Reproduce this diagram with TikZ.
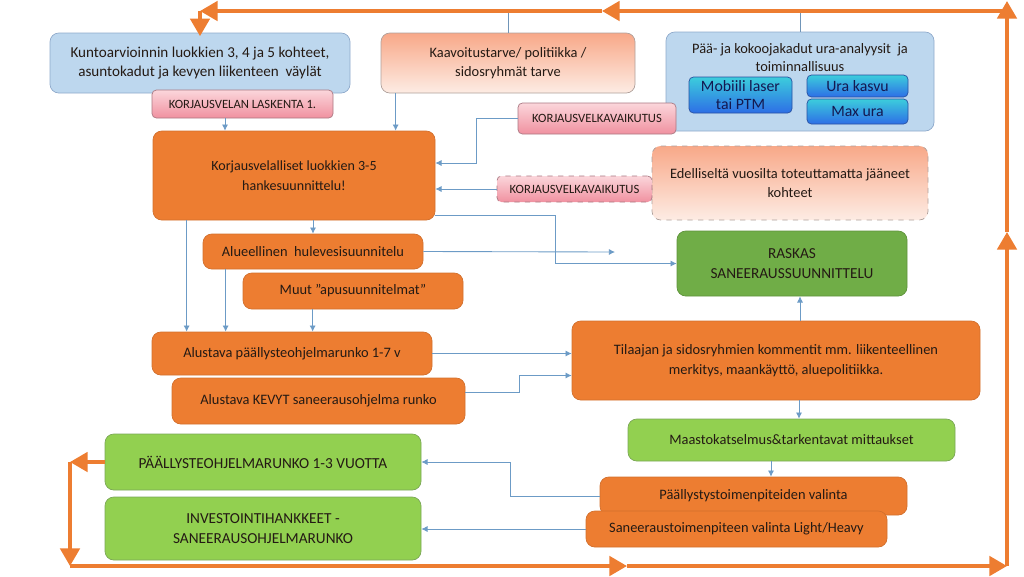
\documentclass[tikz,border=0pt]{standalone}
\usepackage{fontspec}
\setmainfont{Carlito}
\usetikzlibrary{arrows.meta,positioning,calc}
\definecolor{kblue}{HTML}{BDD7EE}
\definecolor{kblueline}{HTML}{8FAACB}
\definecolor{korange}{HTML}{ED7D31}
\definecolor{korangeline}{HTML}{D2702E}
\definecolor{kgreen}{HTML}{70AD47}
\definecolor{klgreen}{HTML}{92D050}
\definecolor{kgreenline}{HTML}{7BA757}
\definecolor{kconn}{HTML}{6C9BC6}
\definecolor{ktext}{HTML}{241A14}
\definecolor{knavy}{HTML}{141850}

\begin{document}
\begin{tikzpicture}[x=0.02cm,y=-0.02cm,
  fs/.style={font=\fontsize{#1}{11}\selectfont},
  kbox/.style={rounded corners=5pt,align=center,inner sep=1pt,text=ktext,fs=8.2},
  sz/.style 2 args={minimum width=#1*0.02cm,minimum height=#2*0.02cm},
  bluebox/.style={kbox,fill=kblue,draw=kblueline},
  orbox/.style={kbox,fill=korange,draw=korangeline},
  grbox/.style={kbox,fill=kgreen,draw=kgreen!85!black,fs=8.7},
  lgrbox/.style={kbox,fill=klgreen,draw=kgreenline},
  pinkbox/.style={kbox,rounded corners=2.5pt,top color={rgb,255:red,251;green,214;blue,219},
    bottom color={rgb,255:red,240;green,145;blue,160},
    draw={rgb,255:red,170;green,120;blue,130},font=\fontsize{7.2}{8}\selectfont},
  salbox/.style={kbox,top color={rgb,255:red,248;green,168;blue,136},bottom color={rgb,255:red,253;green,236;blue,228},
    draw={rgb,255:red,175;green,160;blue,155}},
  urabox/.style={kbox,rounded corners=2.5pt,top color={rgb,255:red,60;green,205;blue,220},
    middle color={rgb,255:red,25;green,45;blue,150},bottom color={rgb,255:red,45;green,110;blue,230},
    draw={rgb,255:red,40;green,80;blue,160},text=knavy,font=\fontsize{9}{10}\selectfont},
  conn/.style={draw=kconn,line width=0.5pt,-{Latex[length=3.5pt,width=3.5pt]}},
  thinline/.style={draw=kconn!80!gray,line width=0.5pt},
  cyc/.style={draw=korange,line width=2.1pt,-{Triangle[length=10pt,width=11pt]}},
]
\useasboundingbox (0,0) rectangle (1024,576);

% top row
\node[bluebox,fs=8.6,sz={300}{60}] (kunto) at (200,63)
  {Kuntoarvioinnin luokkien 3, 4 ja 5 kohteet,\\asuntokadut ja kevyen liikenteen\ \ väylät};
\node[pinkbox,sz={181}{28}] (laskenta) at (242.5,104) {KORJAUSVELAN LASKENTA 1.};
\node[salbox,sz={254}{60}] (kaavoitus) at (508,63) {Kaavoitustarve/ politiikka /\\sidosryhmät tarve};
\node[bluebox,sz={268}{99},
  label={[anchor=north,yshift=-3pt,align=center,text=ktext,font=\fontsize{8.2}{10.5}\selectfont]north:{Pää- ja kokoojakadut ura-analyysit\ \ ja\\toiminnallisuus}}]
  (paa) at (800,81.5) {};
\node[urabox,sz={103}{36}] (mobiili) at (740.5,95) {Mobiili laser\\tai PTM};
\node[urabox,sz={101}{22}] (urakasvu) at (857.5,86) {Ura kasvu};
\node[urabox,sz={101}{25}] (maxura) at (857.5,111.5) {Max ura};
\node[pinkbox,sz={158}{31}] (kv1) at (597,118.5) {KORJAUSVELKAVAIKUTUS};

% middle
\node[orbox,fs=8,sz={282}{89}] (korjaus) at (294,175.5) {Korjausvelalliset luokkien 3-5\\hankesuunnittelu!};
\node[salbox,dashed,sz={276}{74}] (edell) at (790,183) {Edelliseltä vuosilta toteuttamatta jääneet\\kohteet};
\node[pinkbox,dashed,sz={155}{26}] (kv2) at (574.5,189) {KORJAUSVELKAVAIKUTUS};
\node[orbox,sz={220}{35}] (hule) at (313,251.5) {Alueellinen\ \ hulevesisuunnitelu};
\node[orbox,sz={220}{36}] (muut) at (353,291) {Muut ”apusuunnitelmat”};
\node[grbox,sz={230}{65}] (raskas) at (792,263.5) {RASKAS\\SANEERAUSSUUNNITTELU};
\node[orbox,sz={280}{43}] (alustava) at (292,353.5) {Alustava päällysteohjelmarunko 1-7 v};
\node[orbox,sz={293}{46}] (kevyt) at (318.5,401) {Alustava KEVYT saneerausohjelma runko};
\node[orbox,sz={408}{79}] (tilaajan) at (776,360.5)
  {Tilaajan ja sidosryhmien kommentit mm. liikenteellinen\\merkitys, maankäyttö, aluepolitiikka.};

% bottom
\node[lgrbox,sz={327}{42}] (maasto) at (791.5,440) {Maastokatselmus\&tarkentavat mittaukset};
\node[lgrbox,fs=8.7,sz={316}{56}] (paal13) at (263,462) {PÄÄLLYSTEOHJELMARUNKO 1-3 VUOTTA};
\node[lgrbox,fs=8.7,sz={316}{63}] (invest) at (263,528.5) {INVESTOINTIHANKKEET -\\SANEERAUSOHJELMARUNKO};
\node[orbox,sz={307}{38}] (valinta) at (753.5,496) {Päällystystoimenpiteiden valinta};
\node[orbox,sz={301}{36}] (saneer) at (736.5,529) {Saneeraustoimenpiteen valinta Light/Heavy};

% thin connectors
\draw[conn] ([xshift=-0.35cm]laskenta.south) -- ([xshift=-0.35cm]laskenta.south |- korjaus.north);
\draw[conn] ([xshift=0.3cm]kaavoitus.south west) -- ([xshift=0.3cm]kaavoitus.south west |- korjaus.north);
\draw[conn] (kv1.west) -- ++(-41,0) |- ([yshift=0.25cm]korjaus.east);
\draw[conn] (kv2.west) -- (kv2.west -| korjaus.east);
\draw[conn] (hule.north |- korjaus.south) -- (hule.north);
\draw[conn] ([xshift=0.7cm]alustava.north west |- korjaus.south) -- ([xshift=0.7cm]alustava.north west);
\draw[conn] ([xshift=0.46cm]hule.south west) -- ([xshift=0.46cm]hule.south west |- alustava.north);
\draw[conn] ([xshift=1.4cm]muut.south west) -- ([xshift=1.4cm]muut.south west |- alustava.north);
\coordinate (hend) at (615,252);
\draw[conn] (hule.east) -- (hend);
\draw[conn] ([yshift=-0.8cm]korjaus.east) -- ++(120,0) |- (raskas.west);
\draw[conn] (alustava.east) -- (alustava.east -| tilaajan.west);
\draw[conn] ([yshift=0.18cm]kevyt.east) -- ++(54,0) |- ([yshift=-0.3cm]tilaajan.west);
\draw[conn] ([xshift=0.16cm]raskas.south |- tilaajan.north) -- ([xshift=0.16cm]raskas.south);
\draw[conn] ([xshift=0.15cm]maasto.north |- tilaajan.south) -- ([xshift=0.15cm]maasto.north);
\draw[conn] ([xshift=0.35cm]valinta.north |- maasto.south) -- ([xshift=0.35cm]valinta.north);
\draw[conn] (valinta.west) -- ++(-89,0) |- (paal13.east);
\draw[conn] (saneer.west) -- (saneer.west -| invest.east);

% the big loop
\coordinate (bl) at (70,566);
\coordinate (blm) at (627,566);
\coordinate (br) at (1007,566);
\coordinate (brm) at (1007,232);
\coordinate (tr) at (1007,11);
\coordinate (trt) at (1007,1);
\coordinate (tlm) at (602,11);
\coordinate (tl) at (200,11);
\draw[thinline] (kaavoitus.north) -- (kaavoitus.north |- tr);
\draw[thinline] (paa.north) -- (paa.north |- tr);
\draw[cyc] (paal13.west) -- (paal13.west -| bl);
\draw[cyc] (paal13.west -| bl) -- (bl);
\draw[cyc] (bl) -- (blm);
\draw[cyc] (blm) -- (br);
\draw[cyc] (br) -- (brm);
\draw[cyc] (brm) -- (trt);
\draw[cyc] (tr) -- (tlm);
\draw[cyc] (tlm) -- (tl);
\draw[cyc] (tl) -- ([yshift=-2pt]kunto.north -| tl);
\end{tikzpicture}
\end{document}
